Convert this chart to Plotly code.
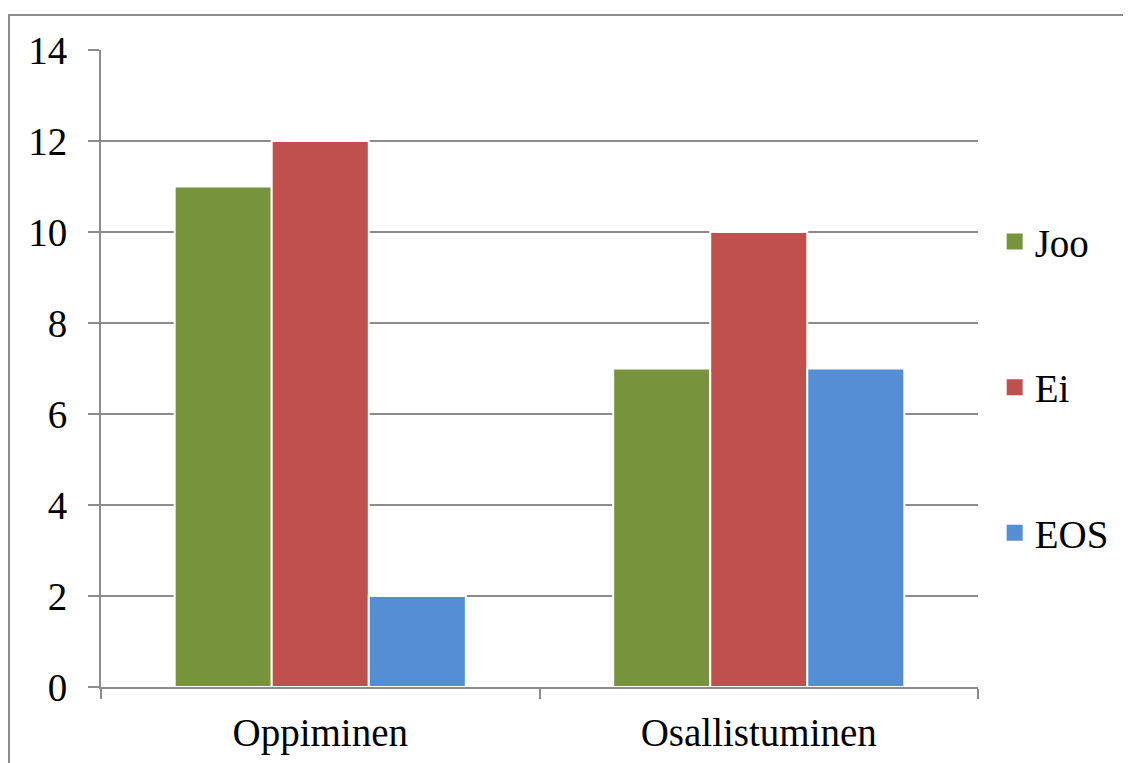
import plotly.graph_objects as go

categories = ["Oppiminen", "Osallistuminen"]
series_names = ["Joo", "Ei", "EOS"]
joo = [11, 7]
ei = [12, 10]
eos = [2, 7]
colors = ["#77933C", "#C0504D", "#558ED5"]
y_ticks = [0, 2, 4, 6, 8, 10, 12, 14]

FONT = "Liberation Serif, serif"
fig = go.Figure()
for name, vals, col in zip(series_names, [joo, ei, eos], colors):
    fig.add_trace(go.Bar(x=categories, y=vals, name=name, showlegend=False,
                         marker=dict(color=col, line=dict(color="white", width=2))))
for i, (name, col) in enumerate(zip(series_names, colors)):
    fig.add_trace(go.Scatter(x=[None], y=[None], mode="markers", name=name,
                             legendgroup=f"g{i}",
                             marker=dict(symbol="square", size=16, color=col)))

fig.update_layout(
    width=1123, height=755,
    margin=dict(l=93, r=153, t=42, b=76, autoexpand=False),
    paper_bgcolor="white", plot_bgcolor="white",
    barmode="group", bargap=0.336, bargroupgap=0,
    font=dict(family=FONT, size=39, color="black"),
    legend=dict(x=1.019, xanchor="left", y=0.47, yanchor="middle",
                tracegroupgap=92, font=dict(size=39), itemsizing="trace"),
    xaxis=dict(showgrid=False, showline=True, linecolor="#8c8c8c", linewidth=2,
               ticks="outside", tickson="boundaries", ticklen=10, tickwidth=2,
               tickcolor="#8c8c8c", ticklabelstandoff=10, automargin=False),
    yaxis=dict(range=[0, 14], tickvals=y_ticks, showgrid=True, gridcolor="#8c8c8c",
               gridwidth=2, showline=True, linecolor="#8c8c8c", linewidth=2,
               ticks="outside", ticklen=11, tickwidth=2, tickcolor="#8c8c8c",
               ticklabelstandoff=13, zeroline=False, automargin=False),
    shapes=[dict(type="rect", xref="paper", yref="paper", x0=-0.1049, x1=1.3,
                 y0=-0.3, y1=1.055, line=dict(color="#8c8c8c", width=2),
                 fillcolor="rgba(0,0,0,0)", layer="below")],
)
fig.write_html("out.html")
